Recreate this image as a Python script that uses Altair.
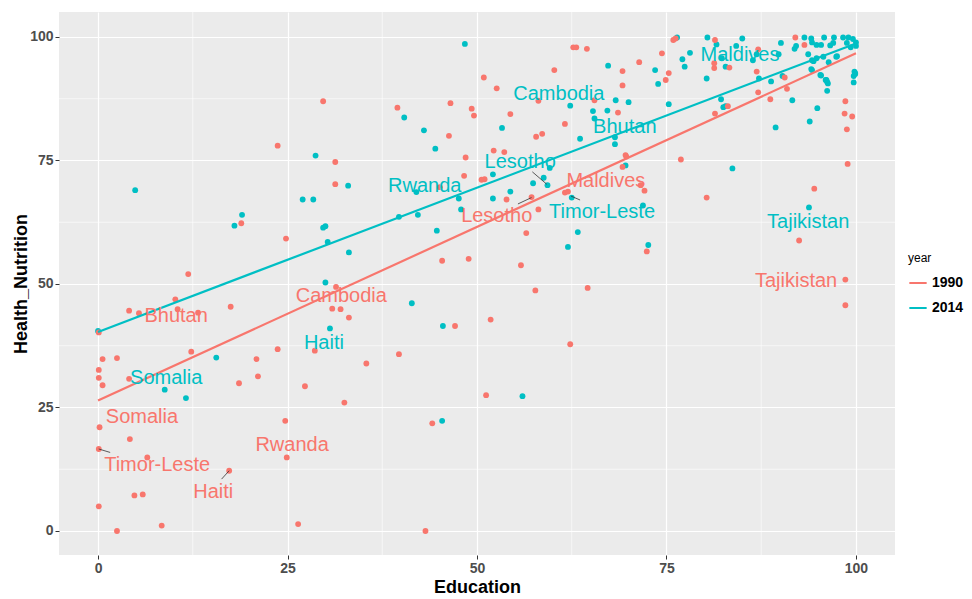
import altair as alt
import pandas as pd

# ---------------- data ----------------
years = ["1990", "2014"]
year_colors = ["#F8766D", "#00BFC4"]

# 1990 (red) points: Education, Health_Nutrition
red_x = [29.7, 23.7, 31.3, 31.3, 18.9, 24.8, 11.9, 31.4, 10.2,
         62.7, 63.1, 64.5, 71.4, 60.2, 69.2, 50.9, 52.6, 69.2, 58.1, 65.5, 39.5, 46.5, 49.3, 49.6,
         68.6, 54.4, 61.6, 58.6, 57.8, 46.3, 52.2, 53.6, 48.5, 69.6, 69.7, 69.2, 48.3, 50.6, 51.0,
         53.9, 57.2, 61.6, 62.0, 71.6, 72.1, 58.1, 56.5, 72.4, 45.4, 48.9, 55.8, 57.7, 64.6, 45.1,
         75.9, 76.2, 81.4, 87.1, 74.4, 75.3, 74.9, 81.3, 81.3, 86.9, 90.6, 90.9, 87.1, 88.7, 83.1,
         81.4, 76.9, 80.3, 94.5, 92.5, 98.6, 98.6, 98.5, 99.5, 98.8, 98.9, 98.6, 92.0, 93.2, 83.3,
         0.1, 4.1, 5.4, 10.5, 13.2, 17.5, 12.3, 0.6, 2.5, 0.1, 0.1, 0.6, 4.1, 20.9, 21.1, 18.6,
         23.7, 27.3, 28.6, 30.9, 32.0, 33.1, 32.5, 0.2, 4.2, 0.1, 6.5, 17.3, 24.7, 24.9, 4.8, 5.9,
         0.1, 2.5, 8.4, 26.4,
         47.1, 51.8, 62.3, 39.7, 35.4, 51.2, 44.1, 43.2]
red_y = [87.0, 78.0, 74.7, 70.2, 62.3, 59.2, 52.0, 49.4, 46.9,
         97.9, 97.9, 97.6, 94.9, 93.3, 93.1, 91.8, 89.6, 90.2, 87.1, 87.2, 85.7, 86.6, 85.5, 84.1,
         84.7, 84.4, 82.4, 80.4, 79.8, 80.0, 77.0, 76.7, 75.6, 76.1, 75.8, 73.7, 71.9, 71.1, 71.2,
         67.1, 67.6, 68.5, 68.7, 70.0, 68.9, 65.1, 60.3, 56.6, 54.7, 55.1, 53.8, 48.7, 49.2, 69.6,
         99.4, 99.7, 99.4, 97.5, 96.7, 92.7, 91.3, 94.7, 93.7, 93.0, 91.8, 89.5, 88.8, 87.4, 86.0,
         84.5, 75.2, 67.5, 69.3, 58.8, 50.9, 87.0, 84.5, 83.9, 81.3, 74.3, 45.7, 99.9, 98.4, 93.8,
         40.2, 44.6, 44.1, 44.9, 44.2, 45.4, 36.3, 34.8, 35.0, 32.6, 31.0, 29.5, 30.8, 34.8, 31.3, 29.9,
         36.8, 29.3, 36.5, 45.0, 44.9, 43.2, 26.0, 21.0, 18.6, 16.6, 14.9, 12.2, 22.3, 14.9, 7.2, 7.4,
         5.0, 0.0, 1.1, 1.4,
         41.5, 42.8, 37.8, 35.8, 33.9, 27.5, 21.8, 0.0]

# 2014 (teal) points
teal_x = [4.9, 28.7, 33.0, 27.0, 28.4, 19.0, 18.0, 29.7, 30.0, 30.3, 33.1, 30.0,
          48.4, 67.3, 73.5, 73.9, 62.3, 68.3, 70.0, 40.4, 65.3, 67.2, 65.5, 53.3, 43.0, 63.6,
          68.2, 68.2, 44.5, 69.6, 59.6, 58.8, 59.3, 57.4, 52.1, 42.0, 47.6, 54.4, 52.1, 62.5,
          71.9, 47.9, 42.2, 39.7, 44.7, 63.3, 62.0, 72.6,
          76.4, 80.4, 81.6, 84.2, 85.0, 90.1, 78.1, 77.1, 77.4, 82.8, 80.3, 86.4, 87.2, 88.8,
          90.3, 91.6, 82.2, 82.5, 82.8, 75.3, 89.4, 93.9, 94.9, 83.7, 93.8, 95.3, 96.0, 96.2,
          96.2, 94.2, 99.8, 99.9, 99.7, 97.5, 96.4,
          93.2, 94.1, 94.2, 95.8, 97.1, 98.3, 99.0, 99.6, 100.0, 100.0, 91.9, 92.1, 94.8, 95.4,
          96.6, 97.0, 98.8, 99.3, 93.7, 94.2, 94.4, 94.8, 95.7, 97.4, 94.1, 95.4, 96.1, 96.3,
          99.9, 99.7, 86.9, 89.8, 82.3,
          15.6, 8.8, 11.6, 30.6, 41.4, 45.5, 56.0, 45.4, 0.0]
teal_y = [69.0, 76.0, 69.9, 67.1, 67.1, 64.0, 61.8, 61.4, 61.7, 58.5, 56.4, 50.3,
          98.6, 94.2, 93.3, 90.5, 86.1, 87.2, 86.8, 83.7, 85.0, 85.1, 83.5, 81.6, 81.1, 79.4,
          79.7, 78.3, 77.4, 74.0, 73.5, 71.5, 70.0, 70.4, 72.2, 68.6, 67.3, 68.7, 67.3, 67.5,
          65.9, 65.1, 64.0, 63.6, 60.8, 60.5, 57.5, 57.9,
          99.9, 99.9, 98.5, 98.2, 99.7, 98.8, 96.8, 95.5, 94.0, 94.0, 91.6, 95.3, 91.6, 91.0,
          92.1, 87.2, 87.4, 85.8, 86.0, 86.4, 81.7, 82.9, 85.6, 73.4, 65.5, 92.3, 91.3, 90.9,
          89.1, 93.3, 93.0, 92.5, 90.8, 96.1, 94.9,
          99.9, 99.7, 98.9, 99.9, 99.9, 99.9, 99.9, 99.6, 98.9, 98.2, 97.6, 98.2, 98.4, 98.4,
          98.3, 98.8, 98.8, 97.9, 96.5, 95.3, 95.1, 95.7, 96.0, 96.0, 93.5, 92.2, 91.3, 90.6,
          92.7, 92.1, 96.5, 96.5, 95.7,
          35.1, 28.6, 26.9, 41.0, 46.1, 41.5, 27.3, 22.3, 40.5]

# fitted (lm) lines, read at both ends
fit_year = ["1990", "1990", "2014", "2014"]
fit_x = [0, 100, 0, 100]
fit_y = [26.4, 96.7, 40.3, 98.7]

# country labels (text position in data units)
label_text = ["Cambodia", "Maldives", "Bhutan", "Lesotho", "Rwanda", "Timor-Leste", "Tajikistan",
              "Haiti", "Somalia",
              "Maldives", "Lesotho", "Tajikistan", "Cambodia", "Bhutan", "Somalia", "Rwanda",
              "Timor-Leste", "Haiti"]
label_year = ["2014"] * 9 + ["1990"] * 9
label_x = [60.8, 84.7, 69.5, 55.7, 43.1, 66.5, 93.7, 29.8, 9.0,
           67.0, 52.6, 92.1, 32.1, 10.3, 5.8, 25.6, 7.8, 15.2]
label_y = [88.5, 96.4, 81.8, 74.7, 69.8, 64.6, 62.6, 38.1, 31.0,
           70.9, 63.8, 50.6, 47.6, 43.5, 23.1, 17.4, 13.4, 7.9]

# label connector segments: from label edge to the point
seg_x = [57.3, 55.4, 63.6, 1.6, 16.3]
seg_y = [72.7, 66.2, 67.0, 15.9, 10.5]
seg_x2 = [59.2, 57.2, 62.4, 0.1, 17.3]
seg_y2 = [70.2, 67.5, 67.8, 16.6, 12.2]

tick_values = [0, 25, 50, 75, 100]
minor_values = [12.5, 37.5, 62.5, 87.5]

# ---------------- tables ----------------
points = pd.DataFrame({
    "Education": teal_x + red_x,
    "Health_Nutrition": teal_y + red_y,
    "year": ["2014"] * len(teal_x) + ["1990"] * len(red_x),
})
fits = pd.DataFrame({"Education": fit_x, "Health_Nutrition": fit_y, "year": fit_year})
labels = pd.DataFrame({"Education": label_x, "Health_Nutrition": label_y,
                       "year": label_year, "name": label_text})
segs = pd.DataFrame({"x": seg_x, "y": seg_y, "x2": seg_x2, "y2": seg_y2})
minor = pd.DataFrame({"v": minor_values})

FONT = "Liberation Sans"
XDOM = [-5.15, 105.15]
YDOM = [-4.86, 105.06]

xscale = alt.Scale(domain=XDOM, nice=False, zero=False)
yscale = alt.Scale(domain=YDOM, nice=False, zero=False)

legend = alt.Legend(
    title="year", orient="none", legendX=849, legendY=241,
    symbolType="stroke", symbolSize=300, symbolStrokeWidth=2,
    titleFont=FONT, titleFontSize=12, titleFontWeight="normal", titleColor="#000000",
    labelFont=FONT, labelFontSize=14, labelFontWeight="bold", labelColor="#000000",
    rowPadding=8, titlePadding=8,
)
color = alt.Color("year:N", scale=alt.Scale(domain=years, range=year_colors), legend=legend)

x_enc = alt.X("Education:Q", scale=xscale, title="Education",
              axis=alt.Axis(values=tick_values))
y_enc = alt.Y("Health_Nutrition:Q", scale=yscale, title="Health_Nutrition",
              axis=alt.Axis(values=tick_values))

minor_x = alt.Chart(minor).mark_rule(color="white", strokeWidth=0.6).encode(
    x=alt.X("v:Q", scale=xscale))
minor_y = alt.Chart(minor).mark_rule(color="white", strokeWidth=0.6).encode(
    y=alt.Y("v:Q", scale=yscale))

pts = alt.Chart(points).mark_circle(size=34, opacity=1).encode(
    x=x_enc, y=y_enc, color=color)

lines = alt.Chart(fits).mark_line(strokeWidth=2.2).encode(
    x=x_enc, y=y_enc, color=color)

seg = alt.Chart(segs).mark_rule(color="#333333", strokeWidth=0.8).encode(
    x=alt.X("x:Q", scale=xscale), y=alt.Y("y:Q", scale=yscale),
    x2="x2:Q", y2="y2:Q")

txt = alt.Chart(labels).mark_text(font=FONT, fontSize=20, align="center",
                                  baseline="middle").encode(
    x=x_enc, y=y_enc, color=color, text="name:N")

chart = alt.layer(minor_x, minor_y, pts, lines, seg, txt).properties(
    width=836, height=543,
    autosize=alt.AutoSizeParams(type="none"),
    padding={"left": 51, "top": 4, "right": 69, "bottom": 42},
).configure_view(
    fill="#EBEBEB", stroke=None
).configure_axis(
    domain=False, grid=True, gridColor="white", gridWidth=1.2,
    tickColor="#333333", tickSize=4, tickWidth=1,
    labelFont=FONT, labelFontSize=14, labelFontWeight="bold", labelColor="#4D4D4D",
    labelPadding=2,
    titleFont=FONT, titleFontSize=18, titleFontWeight="bold", titleColor="#000000",
).configure_axisX(
    labelFlush=False, titleBaseline="alphabetic", titleY=37
).configure_axisY(
    labelFlush=False, titleBaseline="alphabetic", titleX=-33
)

chart.save("out.html", embed_options={"renderer": "svg", "actions": False})
